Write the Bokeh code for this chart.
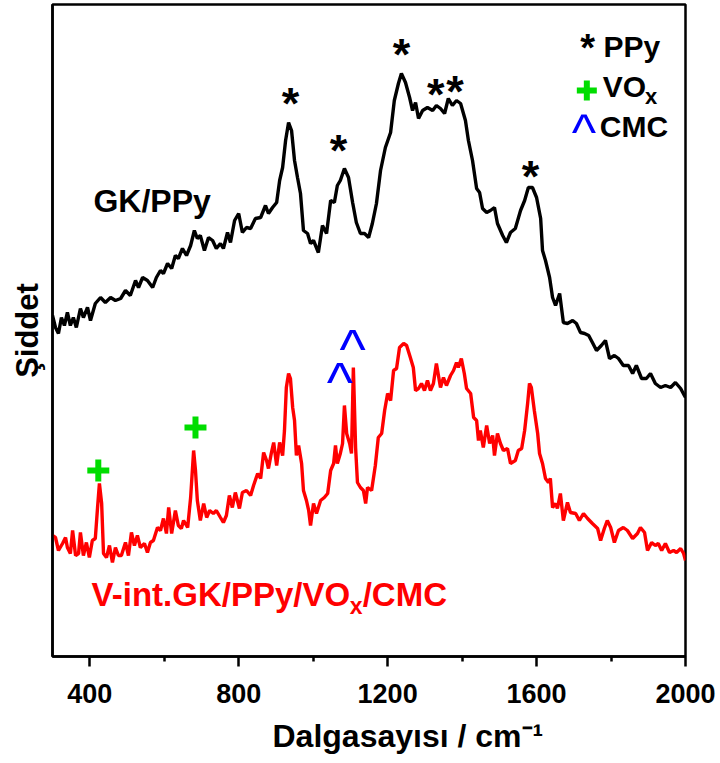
from bokeh.plotting import figure
from bokeh.models import Range1d, FixedTicker, Title
from bokeh.core.properties import value
from bokeh.embed import file_html
from bokeh.resources import INLINE

# ---- data: Raman spectra (wavenumber, relative intensity with offset) ----
gk_x = [300, 308, 316, 324, 332, 340, 348, 356, 364, 375, 383, 394, 402, 415, 429, 442, 456, 469, 483, 496,
        509, 523, 531, 542, 555, 569, 579, 590, 598, 609, 620, 630, 638, 649, 660, 671, 681, 689, 697, 708,
        719, 730, 740, 751, 759, 770, 778, 789, 800, 810, 821, 832, 845, 859, 872, 880, 891, 902, 910, 918,
        926, 934, 942, 950, 958, 966, 974, 985, 993, 1001, 1014, 1025, 1036, 1047, 1057, 1065, 1073, 1084, 1095, 1106,
        1116, 1127, 1138, 1149, 1159, 1170, 1181, 1194, 1208, 1218, 1229, 1237, 1248, 1259, 1267, 1275, 1283, 1294, 1307, 1321,
        1331, 1342, 1353, 1363, 1374, 1385, 1396, 1409, 1417, 1428, 1439, 1447, 1455, 1466, 1476, 1487, 1495, 1509, 1519, 1530,
        1543, 1557, 1568, 1578, 1589, 1600, 1611, 1616, 1624, 1635, 1643, 1651, 1662, 1672, 1683, 1697, 1707, 1718, 1729, 1740,
        1750, 1761, 1774, 1785, 1796, 1809, 1820, 1833, 1847, 1858, 1868, 1882, 1895, 1906, 1919, 1933, 1946, 1960, 1973, 1987,
        1997, 2000]
gk_y = [341, 329, 323, 339, 331, 344, 331, 339, 329, 348, 339, 349, 336, 353, 359, 354, 359, 356, 358, 366,
        361, 376, 369, 379, 376, 369, 379, 386, 383, 393, 388, 401, 398, 408, 401, 411, 426, 418, 421, 406,
        419, 416, 408, 413, 408, 424, 414, 436, 443, 424, 429, 428, 438, 439, 451, 443, 449, 454, 476, 489,
        516, 534, 526, 496, 479, 463, 426, 423, 413, 416, 404, 431, 423, 456, 454, 471, 476, 488, 479, 454,
        434, 423, 423, 419, 433, 453, 486, 509, 524, 556, 573, 583, 574, 559, 546, 554, 538, 546, 549, 546,
        551, 548, 543, 558, 551, 556, 553, 536, 516, 496, 468, 464, 448, 444, 446, 449, 433, 421, 414, 424,
        428, 446, 456, 469, 469, 459, 438, 406, 396, 379, 359, 351, 363, 334, 333, 336, 333, 324, 323, 321,
        314, 306, 311, 316, 298, 301, 298, 291, 291, 283, 291, 278, 278, 283, 273, 269, 271, 269, 274, 268,
        261, 259]

v_x = [300, 308, 316, 327, 335, 340, 348, 354, 362, 370, 375, 383, 391, 399, 407, 415, 421, 426, 432, 437,
       445, 453, 461, 469, 477, 485, 496, 504, 512, 520, 528, 536, 547, 555, 563, 571, 582, 590, 598, 606,
       612, 620, 630, 638, 646, 652, 663, 671, 679, 684, 689, 697, 706, 714, 722, 732, 740, 751, 759, 767,
       775, 783, 791, 802, 810, 821, 832, 840, 851, 859, 867, 875, 880, 888, 894, 902, 910, 918, 923, 928,
       934, 939, 945, 950, 955, 961, 969, 974, 982, 988, 993, 1001, 1009, 1020, 1030, 1039, 1047, 1055, 1060, 1065,
       1073, 1079, 1084, 1090, 1098, 1103, 1108, 1114, 1119, 1127, 1135, 1141, 1146, 1157, 1167, 1175, 1184, 1192, 1200, 1208,
       1216, 1224, 1232, 1243, 1251, 1261, 1269, 1275, 1283, 1291, 1299, 1307, 1315, 1323, 1331, 1342, 1350, 1358, 1369, 1377,
       1385, 1390, 1398, 1406, 1412, 1423, 1431, 1439, 1444, 1449, 1457, 1466, 1474, 1482, 1487, 1495, 1503, 1511, 1522, 1530,
       1543, 1551, 1560, 1568, 1576, 1581, 1586, 1594, 1603, 1608, 1616, 1624, 1632, 1637, 1643, 1651, 1656, 1664, 1672, 1683,
       1691, 1705, 1715, 1726, 1737, 1750, 1764, 1772, 1782, 1790, 1799, 1809, 1820, 1833, 1844, 1858, 1871, 1879, 1890, 1898,
       1909, 1919, 1927, 1936, 1946, 1957, 1968, 1976, 1987, 1995, 2000]
v_y = [121, 119, 106, 113, 119, 109, 103, 126, 101, 103, 124, 101, 114, 99, 116, 118, 149, 173, 153, 103,
       99, 111, 94, 109, 101, 101, 114, 101, 124, 111, 121, 109, 113, 104, 114, 116, 129, 126, 138, 123,
       149, 123, 146, 131, 128, 136, 129, 159, 206, 186, 156, 136, 153, 139, 146, 143, 146, 139, 134, 141,
       161, 149, 164, 148, 164, 166, 161, 171, 183, 178, 204, 196, 188, 204, 214, 191, 214, 201, 226, 269,
       283, 278, 249, 236, 201, 211, 193, 166, 156, 146, 131, 153, 143, 156, 159, 163, 186, 193, 211, 193,
       203, 213, 251, 223, 213, 203, 289, 209, 174, 169, 166, 153, 169, 166, 191, 219, 223, 246, 263, 256,
       286, 288, 309, 313, 311, 299, 289, 266, 268, 273, 266, 276, 266, 273, 293, 269, 279, 271, 281, 286,
       294, 289, 298, 283, 268, 263, 239, 236, 216, 226, 209, 231, 213, 221, 201, 223, 213, 206, 208, 193,
       196, 206, 208, 226, 253, 273, 269, 246, 223, 203, 193, 178, 174, 178, 149, 153, 148, 163, 136, 154,
       144, 143, 136, 143, 138, 133, 128, 116, 128, 136, 129, 114, 126, 129, 126, 118, 123, 129, 124, 106,
       114, 111, 113, 106, 113, 104, 106, 104, 108, 103, 96]

x_ticks = [400, 800, 1200, 1600, 2000]
x_minor = [600, 1000, 1400, 1800]

# peak markers (positions of symbols)
ppy_star_x = [939, 1068, 1237, 1329, 1381, 1584]
ppy_star_y = [553, 506, 602, 562, 565, 480]
vox_plus_x = [423, 684]
vox_plus_y = [186, 229]
cmc_caret_x = [1072, 1106]
cmc_caret_y = [275, 308]

FONT = "Liberation Sans"
GREEN = "#00DD00"

p = figure(width=720, height=763, output_backend="svg", toolbar_location=None,
           x_range=Range1d(300, 2000), y_range=Range1d(0, 652),
           min_border_left=52, min_border_right=35, min_border_top=4, min_border_bottom=107)
p.background_fill_color = "white"
p.border_fill_color = "white"
p.grid.visible = False
p.outline_line_color = "black"
p.outline_line_width = 2.5

# x axis
xa = p.xaxis[0]
xa.ticker = FixedTicker(ticks=x_ticks, minor_ticks=x_minor)
xa.axis_line_width = 2.5
xa.major_tick_line_width = 2.5
xa.minor_tick_line_width = 2.5
xa.major_tick_in = 0
xa.major_tick_out = 10
xa.minor_tick_in = 0
xa.minor_tick_out = 5
xa.major_label_text_font = FONT
xa.major_label_text_font_style = "bold"
xa.major_label_text_font_size = "27px"
xa.major_label_text_color = "black"
xa.major_label_standoff = 17

# y axis (no ticks)
ya = p.yaxis[0]
ya.ticker = FixedTicker(ticks=[])
ya.axis_line_width = 2.5
ya.major_tick_out = 0
ya.minor_tick_out = 0
ya.major_label_standoff = 0
ya.axis_label = "Şiddet"
ya.axis_label_text_font = FONT
ya.axis_label_text_font_style = "bold"
ya.axis_label_text_font_size = "31px"
ya.axis_label_text_color = "black"
ya.axis_label_standoff = 8

# x axis title, placed like the original (left-aligned with an offset)
p.add_layout(Title(text="Dalgasayısı / cm\u207b\u00b9", align="left", offset=220, standoff=20,
                   text_font=FONT, text_font_style="bold", text_font_size="32px",
                   text_color="black"), "below")

# spectra
p.line(gk_x, gk_y, line_color="black", line_width=3.4)
p.line(v_x, v_y, line_color="#FF0000", line_width=3.4)

bold = dict(text_font=value(FONT), text_font_style="bold")

# peak symbols
p.text(x=ppy_star_x, y=ppy_star_y, text=["*"] * len(ppy_star_x), text_color="black",
       text_font_size="45px", text_align="center", text_baseline="middle", **bold)
p.scatter(x=vox_plus_x, y=vox_plus_y, marker="cross", size=22, line_width=6, line_color=GREEN)
p.text(x=cmc_caret_x, y=cmc_caret_y, text=["^"] * len(cmc_caret_x), text_color="#0000FF",
       text_font_size="56px", text_align="center", text_baseline="middle",
       text_font=value(FONT))

# curve labels
p.text(x=[410], y=[456], text=["GK/PPy"], text_color="black", text_font_size="32px",
       text_align="left", text_baseline="alphabetic", **bold)
p.text(x=[405], y=[62], text=["V-int.GK/PPy/VO"], text_color="#FF0000", text_font_size="33px",
       text_align="left", text_baseline="alphabetic", **bold)
p.text(x=[1098], y=[51], text=["x"], text_color="#FF0000", text_font_size="23px",
       text_align="left", text_baseline="alphabetic", **bold)
p.text(x=[1133], y=[62], text=["/CMC"], text_color="#FF0000", text_font_size="33px",
       text_align="left", text_baseline="alphabetic", **bold)

# legend
p.text(x=[1737], y=[609], text=["*"], text_color="black", text_font_size="38px",
       text_align="center", text_baseline="middle", **bold)
p.scatter(x=[1735], y=[566], marker="cross", size=20, line_width=6, line_color=GREEN)
p.text(x=[1727], y=[525], text=["^"], text_color="#0000FF", text_font_size="52px",
       text_align="center", text_baseline="middle", text_font=value(FONT))
p.text(x=[1780], y=[610], text=["PPy"], text_color="black", text_font_size="30px",
       text_align="left", text_baseline="alphabetic", **bold)
p.text(x=[1778], y=[570], text=["VO"], text_color="black", text_font_size="30px",
       text_align="left", text_baseline="alphabetic", **bold)
p.text(x=[1891], y=[560], text=["x"], text_color="black", text_font_size="22px",
       text_align="left", text_baseline="alphabetic", **bold)
p.text(x=[1770], y=[530], text=["CMC"], text_color="black", text_font_size="30px",
       text_align="left", text_baseline="alphabetic", **bold)

open("out.html", "w").write(file_html(p, INLINE))
